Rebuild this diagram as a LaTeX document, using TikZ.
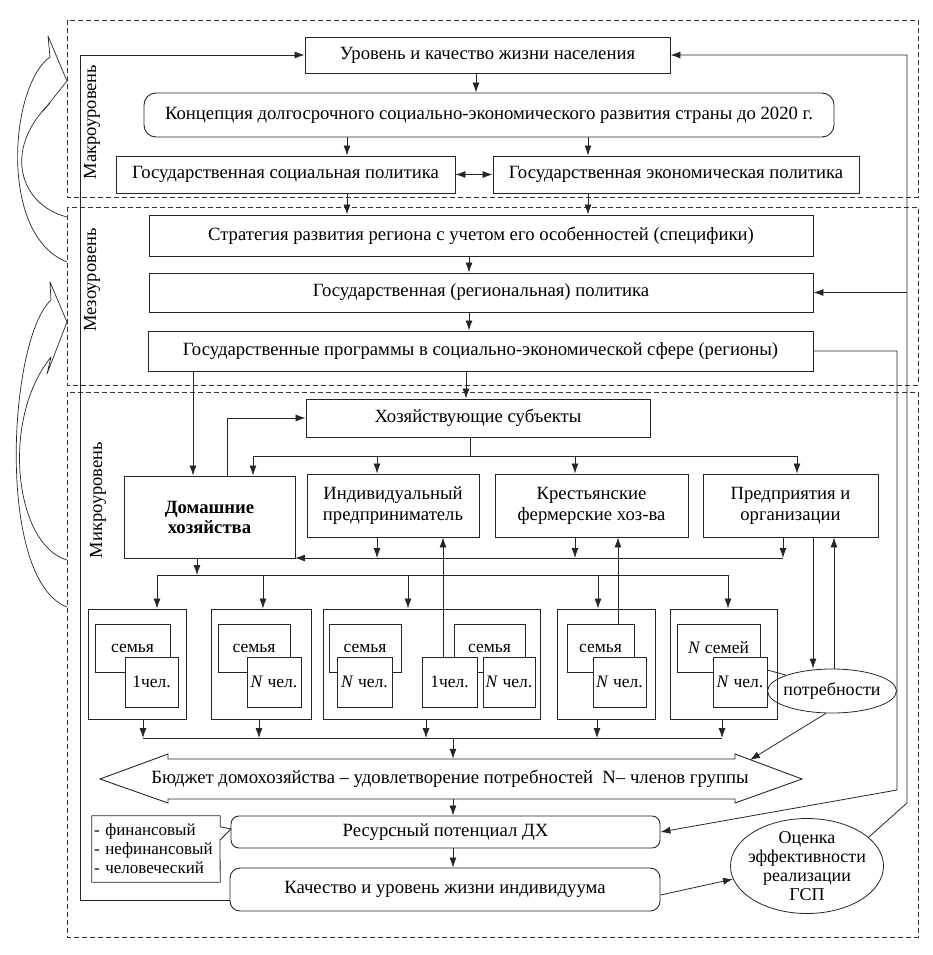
\documentclass[tikz,border=0pt]{standalone}
\usepackage{fontspec}
\setmainfont{Liberation Serif}
\usetikzlibrary{arrows.meta,shapes.geometric}
\begin{document}
\begin{tikzpicture}[x=1pt,y=-1pt,
  every node/.style={inner sep=0pt, font=\fontsize{18.7}{21}\selectfont},
  bx/.style={draw=black!85, line width=0.9pt, rectangle, align=center},
  rbx/.style={bx, rounded corners=10pt},
  ln/.style={draw=black!85, line width=0.8pt},
  arr/.style={ln, -{Latex[length=10pt,width=7pt]}},
  darr/.style={ln, {Latex[length=10pt,width=7pt]}-{Latex[length=10pt,width=7pt]}},
  dbox/.style={draw=black!80, line width=0.7pt, dash pattern=on 5pt off 3pt},
  lvl/.style={rotate=90, font=\fontsize{18.5}{21}\selectfont},
  fam/.style={bx, minimum height=110pt},
  sem/.style={bx, minimum height=48pt, font=\fontsize{17.5}{20}\selectfont},
  chel/.style={bx, fill=white, minimum height=50pt, font=\fontsize{17.5}{20}\selectfont},
  bigarr/.style={draw=black!85, line width=0.7pt, line join=round},
]
\useasboundingbox (0,0) rectangle (932,955);

% level frames
\draw[dbox] (67,20) rectangle (918,197);
\draw[dbox] (67,207) rectangle (918,385);
\draw[dbox] (67,392) rectangle (918,937);

% curved arrows on the left
\draw[bigarr] (67,217) .. controls (20,205) and (2,150) .. (50,103) -- (43,111) -- (67,81) -- (48,36) -- (50,57)
  .. controls (10,85) and (-2,235) .. (67,262);
\draw[bigarr] (67,560) .. controls (15,545) and (0,420) .. (51,357) -- (47,374) -- (67,322) -- (50,282) -- (51,300)
  .. controls (8,340) and (-4,580) .. (67,607);

% level labels
\node[lvl] (lmacro) at (92,122) {Макроуровень};
\node[lvl] (lmeso) at (92,280) {Мезоуровень};
\node[lvl] (lmicro) at (98,500) {Микроуровень};

% macro level
\node[bx, minimum width=365pt, minimum height=36pt] (ur) at (487.5,55) {Уровень и качество жизни населения};
\node[rbx, rounded corners=12pt, minimum width=690pt, minimum height=44pt] (konc) at (489,115) {Концепция долгосрочного социально-экономического развития страны до 2020 г.};
\node[bx, minimum width=339pt, minimum height=37pt] (soc) at (285.5,174.5) {Государственная социальная политика};
\node[bx, minimum width=366pt, minimum height=37pt] (econ) at (676,174.5) {Государственная экономическая политика};

% meso level
\node[bx, minimum width=664pt, minimum height=41pt] (strat) at (481,235.5) {Стратегия развития региона с учетом его особенностей (специфики)};
\node[bx, minimum width=664pt, minimum height=39pt] (reg) at (481,292.5) {Государственная (региональная) политика};
\node[bx, minimum width=665pt, minimum height=40pt] (prog) at (480.5,351) {Государственные программы в социально-экономической сфере (регионы)};

% micro level
\node[bx, minimum width=344pt, minimum height=38pt] (hoz) at (478,418) {Хозяйствующие субъекты};
\node[bx, minimum width=171pt, minimum height=82pt, font=\fontsize{18.7}{20}\selectfont\bfseries] (dh) at (209.5,517) {Домашние\\хозяйства};
\node[bx, minimum width=172pt, minimum height=63pt] (ind) at (393,505.5) {Индивидуальный\\предприниматель};
\node[bx, minimum width=193pt, minimum height=63pt] (kr) at (591.5,505.5) {Крестьянские\\фермерские хоз-ва};
\node[bx, minimum width=175pt, minimum height=63pt] (pr) at (790.5,505.5) {Предприятия и\\организации};

% families
\node[fam, minimum width=98pt] (f1) at (137,664) {};
\node[sem, minimum width=75pt] (s1) at (132.5,648) {семья};
\node[chel, minimum width=53pt] (c1) at (151.5,682) {1чел.};

\node[fam, minimum width=100pt] (f2) at (261,664) {};
\node[sem, minimum width=72pt] (s2) at (254,648) {семья};
\node[chel, minimum width=54pt] (c2) at (274,682) {\textit{N} чел.};

\node[fam, minimum width=217pt] (f3) at (431.5,664) {};
\node[sem, minimum width=72pt] (s3a) at (365,648) {семья};
\node[chel, minimum width=55pt] (c3a) at (364.5,682) {\textit{N} чел.};
\node[sem, minimum width=71pt] (s3b) at (489.5,648) {семья};
\node[chel, minimum width=55pt] (c3b) at (449.5,682) {1чел.};
\node[chel, minimum width=52pt] (c3c) at (509,682) {\textit{N} чел.};

\node[fam, minimum width=98pt] (f4) at (606,664) {};
\node[sem, minimum width=67pt] (s4) at (600.5,648) {семья};
\node[chel, minimum width=53pt] (c4) at (619.5,682) {\textit{N} чел.};

\node[fam, minimum width=107pt] (f5) at (723.5,664) {};
\node[sem, minimum width=83pt] (s5) at (718.5,648) {\textit{N} семей};
\node[chel, minimum width=54pt] (c5) at (740,682) {\textit{N} чел.};

\node[ln, draw, ellipse, minimum width=128pt, minimum height=44pt, inner sep=-3pt, font=\fontsize{18}{20}\selectfont] (pot) at (832,691) {потребности};

% budget double arrow
\draw[bx] (100,779) -- (168,754) -- (168,759) -- (735,759) -- (735,754) -- (802,779) -- (735,803) -- (735,799) -- (168,799) -- (168,803) -- cycle;
\node[minimum width=567pt, minimum height=40pt] (bud) at (450,779) {Бюджет домохозяйства -- удовлетворение потребностей \ N-- членов группы};

\node[rbx, rounded corners=8pt, minimum width=429pt, minimum height=32pt] (res) at (445.5,832) {Ресурсный потенциал ДХ};
\node[rbx, minimum width=430pt, minimum height=43pt] (kach) at (445,889.5) {Качество и уровень жизни индивидуума};
\node[align=left, font=\fontsize{17}{19}\selectfont, text width=124pt, minimum width=128pt, minimum height=66pt] (call) at (156,849) {- финансовый\\- нефинансовый\\- человеческий};
\draw[ln] (call.north west) -- (call.north east) -- ++(0,11) -- (231,829) -- (220,840) -- (call.south east) -- (call.south west) -- cycle;
\node[ln, draw, ellipse, inner sep=-9pt, minimum width=153pt, minimum height=95pt, align=center, font=\fontsize{18}{19}\selectfont] (oc) at (807,866) {Оценка\\эффективности\\реализации\\ГСП};

% coordinates for buses and loops
\coordinate (hb) at (470,456);
\coordinate (b1) at (253,456);
\coordinate (b2) at (797,456);
\coordinate (cbL) at (295,558);
\coordinate (cbR) at (783,558);
\coordinate (dbL) at (157,575);
\coordinate (dbR) at (728,575);
\coordinate (dbD) at (197,575);
\coordinate (ebL) at (143,738);
\coordinate (ebR) at (722,738);
\coordinate (ebM) at (453,738);
\coordinate (budtip) at (750,760);
\coordinate (lpb) at (80,900);
\coordinate (lpt) at (80,55);
\coordinate (ra) at (907,803);
\coordinate (rt) at (907,55);
\coordinate (rr) at (907,292.5);
\coordinate (pa) at (897,351);
\coordinate (pb) at (897,790);

% macro connectors
\draw[arr] (ur.south -| 476,0) -- (konc.north -| 476,0);
\draw[arr] (konc.south -| 347,0) -- (soc.north -| 347,0);
\draw[arr] (konc.south -| 588,0) -- (econ.north -| 588,0);
\draw[darr] (soc) -- (econ);
\draw[arr] (soc.south -| 347,0) -- (strat.north -| 347,0);
\draw[arr] (econ.south -| 588,0) -- (strat.north -| 588,0);
% meso connectors
\draw[arr] (strat.south -| 469,0) -- (reg.north -| 469,0);
\draw[arr] (reg.south -| 469,0) -- (prog.north -| 469,0);
\draw[arr] (prog.south -| 466,0) -- (hoz.north -| 466,0);
\draw[arr] (prog.south -| 193,0) -- (dh.north -| 193,0);
% micro connectors
\draw[arr] (dh.north -| 227,0) |- (hoz.west);
\draw[ln] (hoz.south -| hb) -- (hb);
\draw[ln] (b1) -- (b2);
\draw[arr] (b1) -- (dh.north -| b1);
\draw[arr] (377,456) -- (ind.north -| 377,0);
\draw[arr] (575,456) -- (kr.north -| 575,0);
\draw[arr] (b2) -- (pr.north -| b2);

\draw[arr] (ind.south -| 377,0) -- (377,558);
\draw[arr] (kr.south -| 575,0) -- (575,558);
\draw[arr] (pr.south -| cbR) -- (cbR);
\draw[arr] (cbR) -- (cbL);

\draw[arr] (dh.south -| dbD) -- (dbD);
\draw[ln] (dbL) -- (dbR);
\draw[arr] (dbL) -- (f1.north -| dbL);
\draw[arr] (263,575) -- (f2.north -| 263,0);
\draw[arr] (408,575) -- (f3.north -| 408,0);
\draw[arr] (598,575) -- (f4.north -| 598,0);
\draw[arr] (dbR) -- (f5.north -| dbR);

\draw[arr] (f1.south -| ebL) -- (ebL);
\draw[arr] (f2.south -| 259,0) -- (259,738);
\draw[arr] (f3.south -| 426,0) -- (426,738);
\draw[arr] (f4.south -| 597,0) -- (597,738);
\draw[arr] (f5.south -| ebR) -- (ebR);
\draw[ln] (ebL) -- (ebR);
\draw[arr] (ebM) -- (bud.north -| ebM);

\draw[arr] (c3b.north -| 443,0) -- (ind.south -| 443,0);
\draw[arr] (s4.north -| 618,0) -- (kr.south -| 618,0);
\draw[arr] (pr.south -| 813,0) -- (pot.north -| 813,0);
\draw[arr] (pot.north -| 834,0) -- (pr.south -| 834,0);
\draw[ln] (c5.east |- 0,670) -- (pot.north west);
\draw[arr] (pot.255) -- (budtip);

\draw[arr] (bud.south -| 453,0) -- (res.north -| 453,0);
\draw[arr] (res.south -| 453,0) -- (kach.north -| 453,0);
\draw[arr] (kach.east |- 0,895) -- (oc.190);

% feedback loops
\draw[arr] (kach.west |- lpb) -- (lpb) -- (lpt) -- (ur.west);
\draw[arr] (oc.25) -- (ra) -- (rt) -- (ur.east);
\draw[arr] (rr) -- (reg.east);
\draw[arr] (prog.east) -- (pa) -- (pb) -- (res.east);
\end{tikzpicture}
\end{document}
